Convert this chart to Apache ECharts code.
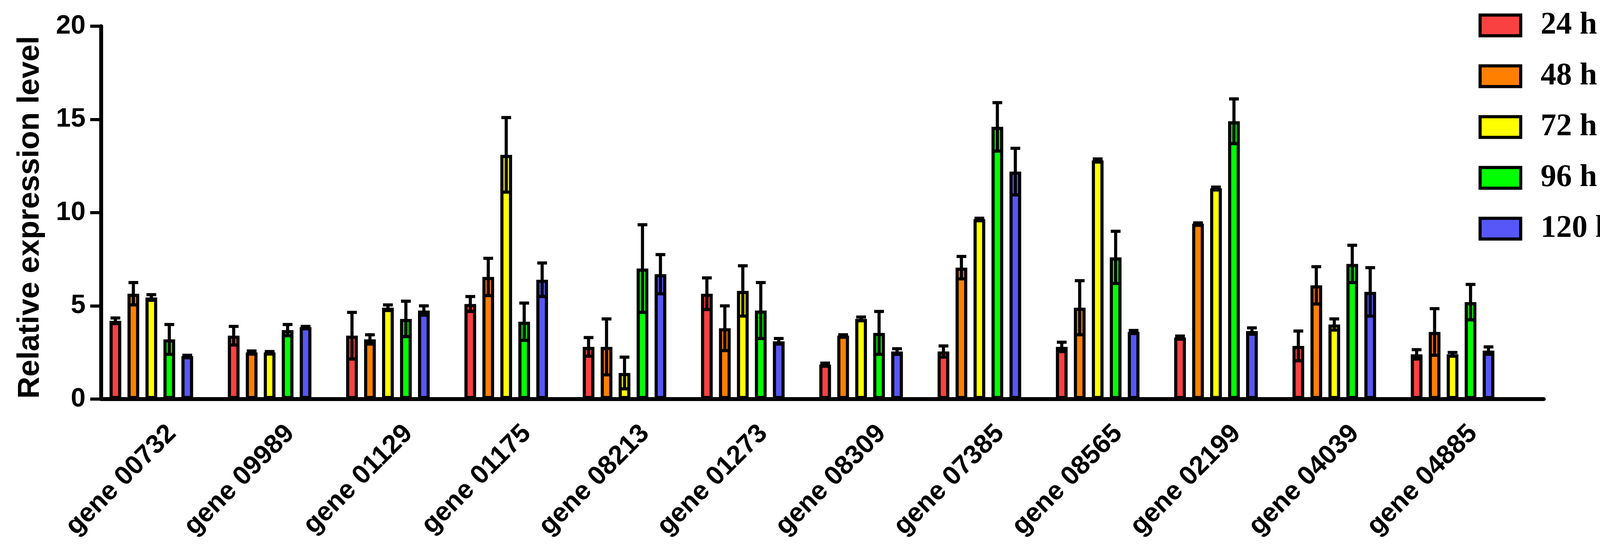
<!DOCTYPE html>
<html>
<head>
<meta charset="utf-8">
<title>Relative expression level</title>
<script src="https://cdn.jsdelivr.net/npm/echarts@6/dist/echarts.min.js"></script>
<style>
    html, body { margin: 0; padding: 0; background: #fff; }
    #chart { width: 4157px; height: 1402px; }
</style>
</head>
<body>
<div id="chart"></div>
<script>
// Data (mean and SD per time point)
const genes = ['gene 00732', 'gene 09989', 'gene 01129', 'gene 01175', 'gene 08213', 'gene 01273',
    'gene 08309', 'gene 07385', 'gene 08565', 'gene 02199', 'gene 04039', 'gene 04885'];
const timeLabels = ['24 h', '48 h', '72 h', '96 h', '120 h'];
const yTicks = [0, 5, 10, 15, 20];

const mean24 = [4.2, 3.4, 3.4, 5.1, 2.8, 5.65, 1.85, 2.55, 2.8, 3.3, 2.85, 2.4];
const sd24 = [0.15, 0.5, 1.25, 0.4, 0.5, 0.85, 0.08, 0.3, 0.25, 0.08, 0.8, 0.25];
const mean48 = [5.65, 2.5, 3.2, 6.55, 2.8, 3.8, 3.4, 7.05, 4.9, 9.4, 6.1, 3.6];
const sd48 = [0.6, 0.08, 0.25, 1.0, 1.5, 1.2, 0.05, 0.6, 1.45, 0.05, 1.0, 1.25];
const mean72 = [5.45, 2.5, 4.9, 13.1, 1.4, 5.8, 4.3, 9.65, 12.8, 11.3, 4.0, 2.4];
const sd72 = [0.15, 0.05, 0.15, 2.0, 0.85, 1.35, 0.1, 0.05, 0.08, 0.07, 0.3, 0.1];
const mean96 = [3.2, 3.7, 4.3, 4.15, 7.0, 4.75, 3.55, 14.6, 7.6, 14.9, 7.25, 5.2];
const sd96 = [0.8, 0.3, 0.95, 1.0, 2.35, 1.5, 1.15, 1.3, 1.4, 1.2, 1.0, 0.95];
const mean120 = [2.3, 3.85, 4.75, 6.4, 6.7, 3.1, 2.55, 12.2, 3.6, 3.65, 5.75, 2.6];
const sd120 = [0.05, 0.05, 0.25, 0.9, 1.05, 0.15, 0.15, 1.25, 0.08, 0.17, 1.3, 0.2];

const colors = ['#FA4141', '#FF8000', '#FFFF00', '#00FF00', '#5757F7'];

// Style constants
const BAR_W = 30;
const BAR_GAP = 16;
const SLOT = BAR_W + BAR_GAP;
const CAP = 25;
const LINE = 8;

const means = [mean24, mean48, mean72, mean96, mean120];
const sds = [sd24, sd48, sd72, sd96, sd120];

function errorRender(k) {
    return function (params, api) {
        const cat = api.value(0);
        const m = api.value(1);
        const s = api.value(2);
        const x = api.coord([cat, 0])[0] + (k - 2.5) * SLOT;
        const hi = api.coord([cat, m + s])[1];
        const lo = api.coord([cat, m - s])[1];
        const style = {stroke: '#000', lineWidth: LINE, fill: null};
        return {
            type: 'group',
            children: [
                {type: 'line', shape: {x1: x, y1: hi, x2: x, y2: lo}, style: style},
                {type: 'line', shape: {x1: x - CAP / 2, y1: hi, x2: x + CAP / 2, y2: hi}, style: style},
                {type: 'line', shape: {x1: x - CAP / 2, y1: lo, x2: x + CAP / 2, y2: lo}, style: style}
            ]
        };
    };
}

const series = [];
timeLabels.forEach((name, k) => {
    series.push({
        name: name,
        type: 'bar',
        data: means[k],
        barWidth: BAR_W,
        barGap: (BAR_GAP / BAR_W * 100) + '%',
        itemStyle: {color: colors[k], borderColor: '#000', borderWidth: LINE},
        z: 2
    });
});
// empty slot: keeps the bar groups left of the tick like in the figure
series.push({
    name: 'spacer',
    type: 'bar',
    data: genes.map(() => null),
    barWidth: BAR_W,
    barGap: (BAR_GAP / BAR_W * 100) + '%'
});
timeLabels.forEach((name, k) => {
    series.push({
        name: name + ' SD',
        type: 'custom',
        renderItem: errorRender(k),
        encode: {x: 0, y: 1},
        data: genes.map((g, i) => [i, means[k][i], sds[k][i]]),
        z: 5
    });
});

const axisColor = '#000';
const option = {
    backgroundColor: '#fff',
    animation: false,
    legend: {
        data: timeLabels,
        orient: 'vertical',
        left: 3780,
        top: 20,
        itemWidth: 104,
        itemHeight: 53,
        itemGap: 50,
        icon: 'rect',
        itemStyle: {borderColor: '#000', borderWidth: LINE},
        formatter: name => '{s| }{t|' + name + '}',
        textStyle: {
            rich: {
                s: {width: 46, fontSize: 80, lineHeight: 80},
                t: {
                    fontFamily: 'Liberation Serif',
                    fontWeight: 'bold',
                    fontSize: 80,
                    lineHeight: 80,
                    color: '#000'
                }
            }
        }
    },
    grid: [
        {left: 259, right: 264, top: 67, bottom: 381},
        {left: 259, right: 205, top: 67, bottom: 381}
    ],
    xAxis: [
        {
            type: 'category',
            data: genes,
            gridIndex: 0,
            axisLine: {lineStyle: {color: axisColor, width: 10}},
            axisTick: {alignWithLabel: true, length: 28, lineStyle: {color: axisColor, width: LINE}},
            axisLabel: {
                rotate: 45,
                interval: 0,
                margin: 48,
                verticalAlign: 'top',
                lineHeight: 84,
                fontFamily: 'Liberation Sans',
                fontWeight: 'bold',
                fontSize: 68,
                color: '#000'
            }
        },
        {
            type: 'value',
            gridIndex: 1,
            min: 0,
            max: 1,
            axisLine: {show: true, lineStyle: {color: axisColor, width: 10}},
            axisTick: {show: false},
            axisLabel: {show: false},
            splitLine: {show: false}
        }
    ],
    yAxis: [
        {
            type: 'value',
            gridIndex: 0,
            min: yTicks[0],
            max: yTicks[yTicks.length - 1],
            interval: yTicks[1] - yTicks[0],
            name: 'Relative expression level',
            nameLocation: 'middle',
            nameGap: 143,
            nameTextStyle: {
                fontFamily: 'Liberation Sans',
                fontWeight: 'bold',
                fontSize: 78,
                color: '#000',
                padding: [0, 24, 0, 0]
            },
            axisLine: {show: true, lineStyle: {color: axisColor, width: 10}},
            axisTick: {show: true, length: 28, lineStyle: {color: axisColor, width: LINE}},
            axisLabel: {
                margin: 40,
                fontFamily: 'Liberation Sans',
                fontWeight: 'bold',
                fontSize: 68,
                color: '#000'
            },
            splitLine: {show: false}
        },
        {type: 'value', gridIndex: 1, show: false, min: 0, max: 1}
    ],
    series: series
};

const chart = echarts.init(document.getElementById('chart'), null, {renderer: 'canvas'});
chart.setOption(option);
</script>
</body>
</html>
